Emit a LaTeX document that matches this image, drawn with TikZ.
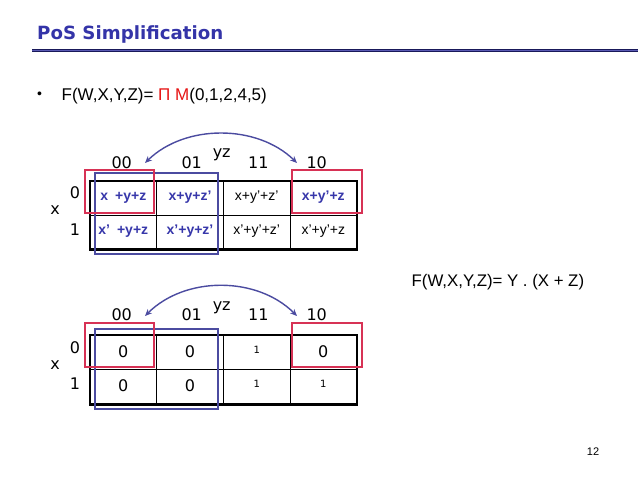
\documentclass[tikz,border=0pt]{standalone}
\usepackage{fontspec}
\setmainfont{Liberation Sans}
\newfontfamily\dejavu{DejaVu Sans}
\usetikzlibrary{arrows.meta}
\definecolor{tblue}{RGB}{52,52,168}
\definecolor{lnavy}{RGB}{25,25,90}
\definecolor{lblue}{RGB}{90,90,180}
\definecolor{cblue}{RGB}{55,55,170}
\definecolor{boxblue}{RGB}{75,75,160}
\definecolor{boxred}{RGB}{215,50,85}
\definecolor{fred}{RGB}{230,20,20}
\tikzset{
  hdr/.style={font=\dejavu\fontsize{16}{19}\selectfont, inner sep=0pt},
  cellb/.style={font=\bfseries\fontsize{14}{16}\selectfont, text=cblue, inner sep=0pt},
  cellk/.style={font=\fontsize{14}{16}\selectfont, inner sep=0pt},
  bigval/.style={font=\dejavu\fontsize{16}{18}\selectfont, inner sep=0pt},
  smallval/.style={font=\dejavu\fontsize{10}{12}\selectfont, inner sep=0pt},
  redbox/.style={draw=boxred, line width=2pt},
  bluebox/.style={draw=boxblue, line width=2pt},
  outer/.style={draw=black, line width=2.4pt},
  inner/.style={draw=black, line width=1pt},
  arc/.style={draw=boxblue, line width=1.4pt, {Stealth[length=7pt,width=6pt]}-{Stealth[length=7pt,width=6pt]}},
}
\begin{document}
\begin{tikzpicture}[x=1pt,y=-1pt]
\useasboundingbox (0,0) rectangle (638,479);
% title
\node[anchor=base west, inner sep=0pt, text=tblue, font=\dejavu\bfseries\fontsize{18.2}{22}\selectfont] (title) at (37,39) {PoS Simplification};
\draw[lnavy, line width=3.4pt] (32,50.5) -- (638,50.5);
\draw[lblue, line width=1pt] (32,50.5) -- (638,50.5);
% bullet line
\node[anchor=base west, inner sep=0pt, font=\fontsize{14}{16}\selectfont] (bul) at (37,98) {•};
\node[anchor=base west, inner sep=0pt, font=\fontsize{17}{20}\selectfont] (f1) at (61.5,100) {F(W,X,Y,Z)= \textcolor{fred}{Π M}(0,1,2,4,5)};
% result
\node[anchor=base west, inner sep=0pt, font=\fontsize{16.8}{20}\selectfont] (f2) at (411.5,286.5) {F(W,X,Y,Z)= Y . (X + Z)};
% page number
\node[inner sep=0pt, font=\fontsize{11}{13}\selectfont] (pg) at (593,452) {12};

% ---------- map 1 ----------
\coordinate (a1l) at (145,163);
\coordinate (a1r) at (297,163);
\draw[arc] (a1l) .. controls (185,124) and (257,124) .. (a1r);
\node[hdr] (h00) at (121.7,162.5) {00};
\node[hdr] (h01) at (191.7,162.5) {01};
\node[hdr] (h11) at (258.3,162.5) {11};
\node[hdr] (h10) at (316.7,162.5) {10};
\node[hdr] (hyz) at (221.7,155) {yz};
\node[hdr] (r0) at (75,193) {0};
\node[hdr] (r1) at (75,230) {1};
\node[hdr] (rx) at (55,210) {x};
\draw[inner] (156.7,180.7) -- (156.7,249.3) (223.3,180.7) -- (223.3,249.3) (290,180.7) -- (290,249.3) (90,215) -- (356.7,215);
\draw[outer] (90,180.7) rectangle (356.7,249.3);
\node[cellb] (c00) at (123.3,197.5) {x\hspace{0.5em}+y+z};
\node[cellb] (c01) at (190,197.5) {x+y+z'};
\node[cellk] (c03) at (256.7,197.5) {x+y'+z'};
\node[cellb] (c02) at (323.3,197.5) {x+y'+z};
\node[cellb] (c10) at (123.3,231.5) {x'\hspace{0.5em}+y+z};
\node[cellb] (c11) at (190,231.5) {x'+y+z'};
\node[cellk] (c13) at (256.7,231.5) {x'+y'+z'};
\node[cellk] (c12) at (323.3,231.5) {x'+y'+z};
\draw[bluebox] (95,173.3) rectangle (218.3,254.3);
\draw[redbox] (85,170) rectangle (154.3,212.7);
\draw[redbox] (292.3,170) rectangle (361.7,212.7);

% ---------- map 2 ----------
\coordinate (a2l) at (145,316);
\coordinate (a2r) at (297,316);
\draw[arc] (a2l) .. controls (185,276) and (257,276) .. (a2r);
\node[hdr] (k00) at (121.7,315) {00};
\node[hdr] (k01) at (191.7,315) {01};
\node[hdr] (k11) at (258.3,315) {11};
\node[hdr] (k10) at (316.7,315) {10};
\node[hdr] (kyz) at (221.7,308) {yz};
\node[hdr] (s0) at (75,347.3) {0};
\node[hdr] (s1) at (75,383.3) {1};
\node[hdr] (sx) at (55,365) {x};
\draw[inner] (156.7,335) -- (156.7,404.3) (223.3,335) -- (223.3,404.3) (290,335) -- (290,404.3) (90,369.3) -- (356.7,369.3);
\draw[outer] (90,335) rectangle (356.7,404.3);
\node[bigval] (d00) at (123.3,352) {0};
\node[bigval] (d01) at (190,352) {0};
\node[smallval] (d03) at (256.7,349.5) {1};
\node[bigval] (d02) at (323.3,352) {0};
\node[bigval] (d10) at (123.3,386) {0};
\node[bigval] (d11) at (190,386) {0};
\node[smallval] (d13) at (256.7,383.5) {1};
\node[smallval] (d12) at (323.3,383.5) {1};
\draw[bluebox] (95,329.3) rectangle (218.3,409);
\draw[redbox] (85,323.3) rectangle (154.3,366.7);
\draw[redbox] (292.3,323.3) rectangle (361.7,366.7);
\end{tikzpicture}
\end{document}
